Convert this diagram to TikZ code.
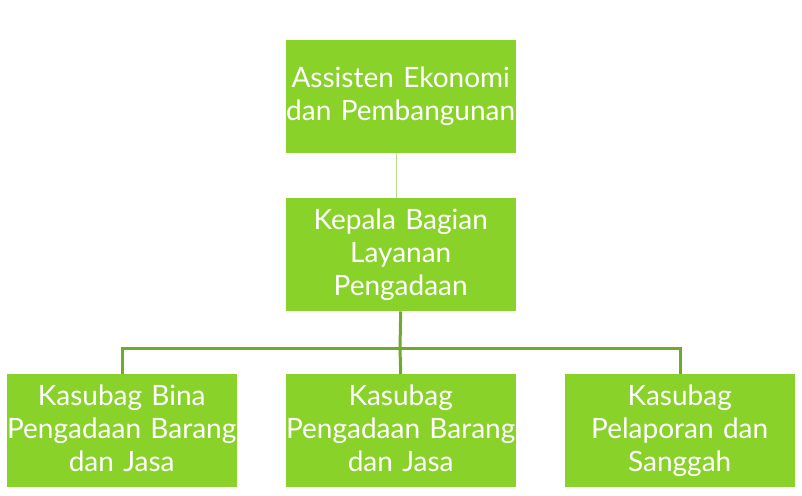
\documentclass[tikz,border=0pt]{standalone}
\usepackage{fontspec}
\setmainfont{Lato}
\definecolor{boxgreen}{RGB}{137,210,42}
\definecolor{linedark}{RGB}{112,170,45}
\definecolor{linelight}{RGB}{180,220,140}
\newcommand{\gstrut}{\vphantom{Kg}}
\begin{document}
\begin{tikzpicture}[x=1pt,y=-1pt,
  orgbox/.style={fill=boxgreen,draw=none,text width=230pt,minimum height=113pt,
    text=white,align=center,font=\fontsize{28}{33}\selectfont,inner sep=0pt,anchor=north west},
  thinconn/.style={draw=linelight,line width=1.2pt},
  thickconn/.style={draw=linedark,line width=3pt}]
\useasboundingbox (0,0) rectangle (802,495);
\node[orgbox] (top) at (285.5,40) {\gstrut Assisten Ekonomi\\dan Pembangunan\gstrut};
\node[orgbox] (mid) at (285.5,198) {\gstrut Kepala Bagian\\Layanan\\Pengadaan\gstrut};
\node[orgbox] (b1) at (6.5,374) {\gstrut Kasubag Bina\\Pengadaan Barang\\dan Jasa\gstrut};
\node[orgbox] (b2) at (285.5,374) {\gstrut Kasubag\\Pengadaan Barang\\dan Jasa\gstrut};
\node[orgbox] (b3) at (564.5,374) {\gstrut Kasubag\\Pelaporan dan\\Sanggah\gstrut};
\coordinate (hb) at (400,348);
\draw[thinconn] ([xshift=-4pt]top.south) -- ([xshift=-4pt]mid.north);
\draw[thickconn] (mid.south) -- (hb);
\draw[thickconn] (b1.north -| 122,0) |- (hb) -| (b3.north -| 680,0);
\draw[thickconn] (hb) -- (b2.north);
\end{tikzpicture}
\end{document}
